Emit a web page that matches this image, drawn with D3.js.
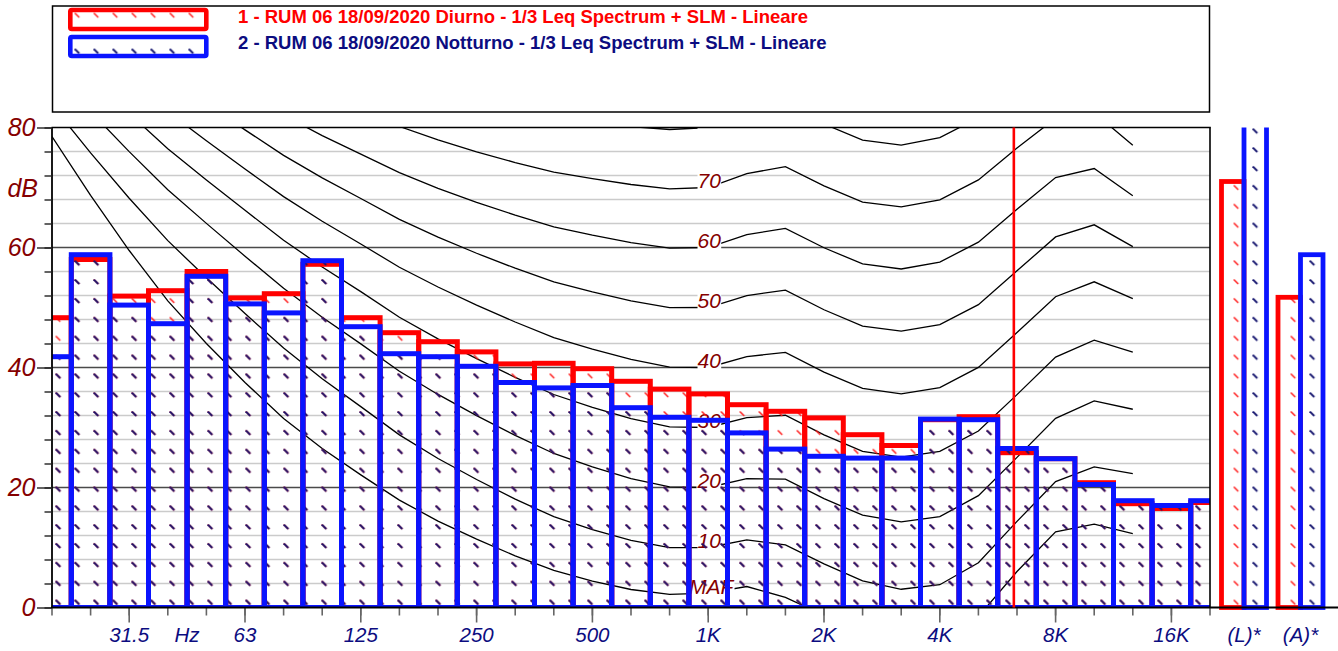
<!DOCTYPE html>
<html><head><meta charset="utf-8">
<script src="https://cdn.jsdelivr.net/npm/d3@7"></script>
<style>
html,body{margin:0;padding:0;background:#fff;}
svg{display:block;font-family:"Liberation Sans",Arial,Helvetica,sans-serif;}
</style>
</head><body>
<svg id="chart" width="1338" height="651"></svg>
<script>
// ---------------- DATA ----------------
const bandHz = [20,25,31.5,40,50,63,80,100,125,160,200,250,315,400,500,630,800,1000,1250,1600,2000,2500,3150,4000,5000,6300,8000,10000,12500,16000,20000];
const diurno   = [48.3,58.0,51.9,52.8,56.0,51.6,52.3,57.2,48.3,45.8,44.3,42.6,40.6,40.7,39.8,37.7,36.4,35.6,33.8,32.7,31.6,28.8,27.0,31.3,31.8,25.8,24.8,20.8,17.3,16.5,17.5];
const notturno = [41.8,58.8,50.4,47.3,55.2,50.6,49.1,57.8,46.8,42.3,41.8,40.2,37.5,36.6,37.0,33.3,31.7,31.2,29.1,26.4,25.2,24.9,24.9,31.4,31.3,26.5,24.8,20.5,17.8,17.0,17.8];

const totalLabels    = ["(L)*","(A)*"];
const diurnoTotals   = [71.0, 51.7];
const notturnoTotals = [83.0, 58.8];

const seriesNames = [
  "1 - RUM 06 18/09/2020 Diurno - 1/3 Leq Spectrum + SLM - Lineare",
  "2 - RUM 06 18/09/2020 Notturno - 1/3 Leq Spectrum + SLM - Lineare"
];

const yTickValues = [0,20,40,60,80];
const xTickLabels = [[31.5,"31.5"],[63,"63"],[125,"125"],[250,"250"],[500,"500"],[1000,"1K"],[2000,"2K"],[4000,"4K"],[8000,"8K"],[16000,"16K"]];
const cursorHz = 6330;

// equal-loudness contours (ISO 226), dB at each 1/3 octave 20 Hz .. 12.5 kHz
const contourHz = [20,25,31.5,40,50,63,80,100,125,160,200,250,315,400,500,630,800,1000,1250,1600,2000,2500,3150,4000,5000,6300,8000,10000,12500];
const contourMAF = [78.5,68.7,59.5,51.1,44.0,37.5,31.5,26.5,22.1,17.9,14.4,11.4,8.6,6.2,4.4,3.0,2.2,2.4,3.5,1.7,-1.3,-4.2,-6.0,-5.4,-1.5,6.0,12.6,13.9,12.3];
const contour10 = [83.75,75.76,68.21,61.14,54.96,49.01,43.24,38.13,33.48,28.77,24.84,21.33,18.05,15.14,12.98,11.18,9.99,10.0,11.26,10.43,7.27,4.45,3.04,3.80,7.46,14.35,20.98,23.43,22.33];
const contour20 = [89.58,82.65,75.98,69.62,64.02,58.55,53.19,48.38,43.94,39.37,35.51,31.99,28.69,25.67,23.43,21.48,20.10,20.0,21.46,21.40,18.15,15.38,14.26,15.14,18.64,25.02,31.52,34.43,33.04];
const contour30 = [null,null,82.36,76.45,71.26,66.20,61.22,56.76,52.64,48.38,44.78,41.47,38.36,35.50,33.37,31.49,30.11,30.0,31.65,32.04,28.76,26.03,25.05,26.02,29.42,35.48,41.74,44.57,42.55];
const contour40 = [null,null,null,82.63,77.79,73.08,68.48,64.37,60.59,56.70,53.41,50.40,47.58,44.98,43.05,41.34,40.06,40.0,41.82,42.51,39.23,36.51,35.61,36.65,40.01,45.83,51.80,54.28,51.49];
const contour50 = [null,null,null,null,83.96,79.61,75.36,71.61,68.17,64.68,61.72,59.04,56.55,54.26,52.59,51.10,49.98,50.0,51.99,52.88,49.62,46.91,46.05,47.15,50.48,56.11,61.76,63.78,60.14];
const contour60 = [null,null,null,null,null,85.94,82.05,78.65,75.56,72.47,69.86,67.53,65.39,63.45,62.05,60.81,59.89,60.0,62.15,63.19,59.96,57.26,56.42,57.57,60.89,66.36,71.66,73.16,68.63];
const contour70 = [null,null,null,null,null,null,null,85.60,82.85,80.17,77.92,75.94,74.16,72.58,71.47,70.50,69.78,70.0,72.32,73.47,70.28,67.58,66.76,67.95,71.26,76.59,81.54,82.46,77.04];
const contour80 = [null,null,null,null,null,null,null,null,null,null,85.92,84.31,82.89,81.68,80.86,80.17,79.67,80.0,82.48,83.74,80.59,77.88,77.07,78.31,81.62,86.81,null,null,null];
const contourLabels = ["MAF","10","20","30","40","50","60","70","80"];

// ---------------- LAYOUT ----------------
const W = 1338, H = 651;
const L = 52, R = 1210, T = 127.5, B = 607.5;
const RED = "#ff0000", BLUE = "#0a14ff", NAVY = "#0c0c80", MAROON = "#850000";

const svg = d3.select("#chart");
svg.append("rect").attr("width", W).attr("height", H).attr("fill", "#fff");

const y = d3.scaleLinear().domain([0, 80]).range([B, T]);
const step = (R - L) / (bandHz.length - 1);
const xb = d3.scaleBand().domain(bandHz).range([L - step / 2, R + step / 2]).padding(0);
const xc = f => xb(f) + xb.bandwidth() / 2;
const xLog = d3.scaleLog().domain([20, 20 * 1024]).range([L, R]);
const xt = d3.scaleBand().domain(totalLabels).range([1215.75, 1328.75]);
const xs = d3.scaleBand().domain([0, 1]).range([-22.5, 22.5]);

// ---------------- PATTERNS ----------------
const defs = svg.append("defs");
function makePattern(id, color, ox, oy, sw) {
  const p = defs.append("pattern").attr("id", id)
    .attr("patternUnits", "userSpaceOnUse")
    .attr("x", ox).attr("y", oy).attr("width", 19).attr("height", 18.85);
  p.append("line").attr("x1", 0.5).attr("y1", 0.5).attr("x2", 5).attr("y2", 5)
    .attr("stroke", color).attr("stroke-width", sw).attr("stroke-linecap", "butt");
}
makePattern("hRed", "#ff1a1a", 55.3, 411, 1.5);
makePattern("hNavy", "#14146e", 55.3, 411, 1.9);
makePattern("hRedLeg", "#ff1a1a", 74.3, 12.5, 1.5);
makePattern("hNavyLeg", "#14146e", 74.3, 48.5, 1.9);

defs.append("clipPath").attr("id", "clipPlot").append("rect")
  .attr("x", L).attr("y", T).attr("width", R - L).attr("height", B - T);
defs.append("clipPath").attr("id", "clipTot").append("rect")
  .attr("x", R + 2).attr("y", T).attr("width", W - R).attr("height", H - T);

// ---------------- LEGEND ----------------
const leg = svg.append("g");
leg.append("rect").attr("x", 52.5).attr("y", 6).attr("width", 1157).attr("height", 106)
  .attr("fill", "#fff").attr("stroke", "#000").attr("stroke-width", 1.5);
const legStyles = [
  {fill: "url(#hRedLeg)", stroke: RED, text: RED, y: 10},
  {fill: "url(#hNavyLeg)", stroke: BLUE, text: NAVY, y: 37}
];
legStyles.forEach((s, i) => {
  leg.append("rect").attr("x", 70.3).attr("y", s.y).attr("width", 136).attr("height", 19)
    .attr("rx", 1.5).attr("fill", s.fill).attr("stroke", s.stroke).attr("stroke-width", 4.6);
  leg.append("text").attr("x", 238).attr("y", i === 0 ? 23.3 : 49.3)
    .attr("fill", s.text).attr("font-weight", "bold").attr("font-size", "18.5px")
    .text(seriesNames[i]);
});

// ---------------- GRID ----------------
const grid = svg.append("g");
d3.range(4, 80, 4).forEach(v => {
  const major = v % 20 === 0;
  grid.append("line").attr("x1", L).attr("x2", R).attr("y1", y(v)).attr("y2", y(v))
    .attr("stroke", major ? "#4a4a4a" : "#cbcbcb").attr("stroke-width", major ? 1.4 : 1.6);
});

// ---------------- CONTOURS ----------------
const contours = [contourMAF, contour10, contour20, contour30, contour40, contour50, contour60, contour70, contour80];
const gC = svg.append("g").attr("clip-path", "url(#clipPlot)");
const line = d3.line().defined(d => d[1] !== null).x(d => xc(d[0])).y(d => y(d[1]));
contours.forEach(c => {
  gC.append("path").attr("d", line(contourHz.map((f, i) => [f, c[i]])))
    .attr("fill", "none").attr("stroke", "#000").attr("stroke-width", 1.3);
});
const i1k = contourHz.indexOf(1000);
contours.forEach((c, k) => {
  const g = gC.append("g");
  const t = g.append("text").attr("x", xc(1000) + (k === 0 ? 3 : 1)).attr("y", y(c[i1k]) + 0.5)
    .attr("text-anchor", "middle").attr("font-style", "italic").attr("font-size", "21px")
    .attr("fill", MAROON).text(contourLabels[k]);
  const bb = t.node().getBBox();
  g.insert("rect", "text").attr("x", bb.x).attr("y", bb.y + 3).attr("width", bb.width)
    .attr("height", bb.height - 4).attr("fill", "#fff");
});

// ---------------- SPECTRUM BARS ----------------
const gB = svg.append("g").attr("clip-path", "url(#clipPlot)");
[[diurno, "url(#hRed)", RED], [notturno, "url(#hNavy)", BLUE]].forEach(([vals, fill, stroke]) => {
  gB.append("g").selectAll("rect").data(bandHz).join("rect")
    .attr("x", f => xb(f)).attr("width", xb.bandwidth())
    .attr("y", (f, i) => y(vals[i])).attr("height", (f, i) => y(0) - y(vals[i]))
    .attr("fill", fill).attr("stroke", stroke).attr("stroke-width", 5);
});

// ---------------- TOTAL BARS ----------------
const gT = svg.append("g").attr("clip-path", "url(#clipTot)");
[[diurnoTotals, "url(#hRed)", RED, 0], [notturnoTotals, "url(#hNavy)", BLUE, 1]].forEach(([vals, fill, stroke, s]) => {
  gT.append("g").selectAll("rect").data(totalLabels).join("rect")
    .attr("x", d => xt(d) + xt.bandwidth() / 2 + xs(s)).attr("width", xs.bandwidth())
    .attr("y", (d, i) => y(vals[i])).attr("height", (d, i) => y(0) - y(vals[i]))
    .attr("fill", fill).attr("stroke", stroke).attr("stroke-width", 4.8);
});

// ---------------- FRAME ----------------
const fr = svg.append("g").attr("stroke", "#000");
fr.append("line").attr("x1", L - 0.5).attr("x2", R + 0.8).attr("y1", T).attr("y2", T).attr("stroke-width", 1.6);
fr.append("line").attr("x1", R).attr("x2", R).attr("y1", T).attr("y2", B).attr("stroke-width", 1.6);
fr.append("line").attr("x1", L).attr("x2", L).attr("y1", T).attr("y2", B).attr("stroke-width", 1.8);

// ---------------- AXES ----------------
const yMinor = svg.append("g").attr("transform", `translate(${L},0)`)
  .call(d3.axisLeft(y).tickValues(d3.range(0, 81, 4)).tickSize(7.5).tickFormat(""));
yMinor.select(".domain").remove();
yMinor.selectAll("line").attr("stroke", "#222").attr("stroke-width", 1.4);
const yMajor = svg.append("g").attr("transform", `translate(${L},0)`)
  .call(d3.axisLeft(y).tickValues(yTickValues).tickSize(15).tickPadding(1.5));
yMajor.select(".domain").remove();
yMajor.selectAll("line").attr("stroke", "#222").attr("stroke-width", 1.4);
yMajor.selectAll("text").attr("fill", MAROON).attr("font-size", "25px").attr("font-style", "italic")
  .attr("font-family", "'Liberation Sans',Arial,sans-serif");
svg.append("text").attr("x", 38).attr("y", 197).attr("text-anchor", "end")
  .attr("fill", MAROON).attr("font-size", "25px").attr("font-style", "italic").text("dB");

const xMinor = svg.append("g").attr("transform", `translate(0,${B})`)
  .call(d3.axisBottom(xb).tickSize(8).tickFormat(""));
xMinor.select(".domain").remove();
xMinor.selectAll("line").attr("stroke", "#666").attr("stroke-width", 1.6);
const labMap = new Map(xTickLabels);
const xMajor = svg.append("g").attr("transform", `translate(0,${B})`)
  .call(d3.axisBottom(xb).tickValues(xTickLabels.map(d => d[0])).tickSize(15).tickPadding(5)
    .tickFormat(f => labMap.get(f)));
xMajor.select(".domain").remove();
xMajor.selectAll("line").attr("stroke", "#666").attr("stroke-width", 1.6);
xMajor.selectAll("text").attr("fill", NAVY).attr("font-size", "20.5px").attr("font-style", "italic")
  .attr("font-family", "'Liberation Sans',Arial,sans-serif");
svg.append("text").attr("x", (xc(40) + xc(50)) / 2).attr("y", 642).attr("text-anchor", "middle")
  .attr("fill", NAVY).attr("font-size", "20.5px").attr("font-style", "italic").text("Hz");

const xTot = svg.append("g").attr("transform", `translate(0,${B})`)
  .call(d3.axisBottom(xt).tickSize(0).tickPadding(20));
xTot.select(".domain").remove();
xTot.selectAll("text").attr("fill", NAVY).attr("font-size", "20.5px").attr("font-style", "italic")
  .attr("font-family", "'Liberation Sans',Arial,sans-serif");

svg.append("line").attr("x1", L - 1).attr("x2", W).attr("y1", B).attr("y2", B)
  .attr("stroke", "#000").attr("stroke-width", 2.2);

// ---------------- CURSOR ----------------
svg.append("line").attr("x1", xLog(cursorHz)).attr("x2", xLog(cursorHz)).attr("y1", T).attr("y2", B)
  .attr("stroke", RED).attr("stroke-width", 2.6);
</script>
</body></html>
